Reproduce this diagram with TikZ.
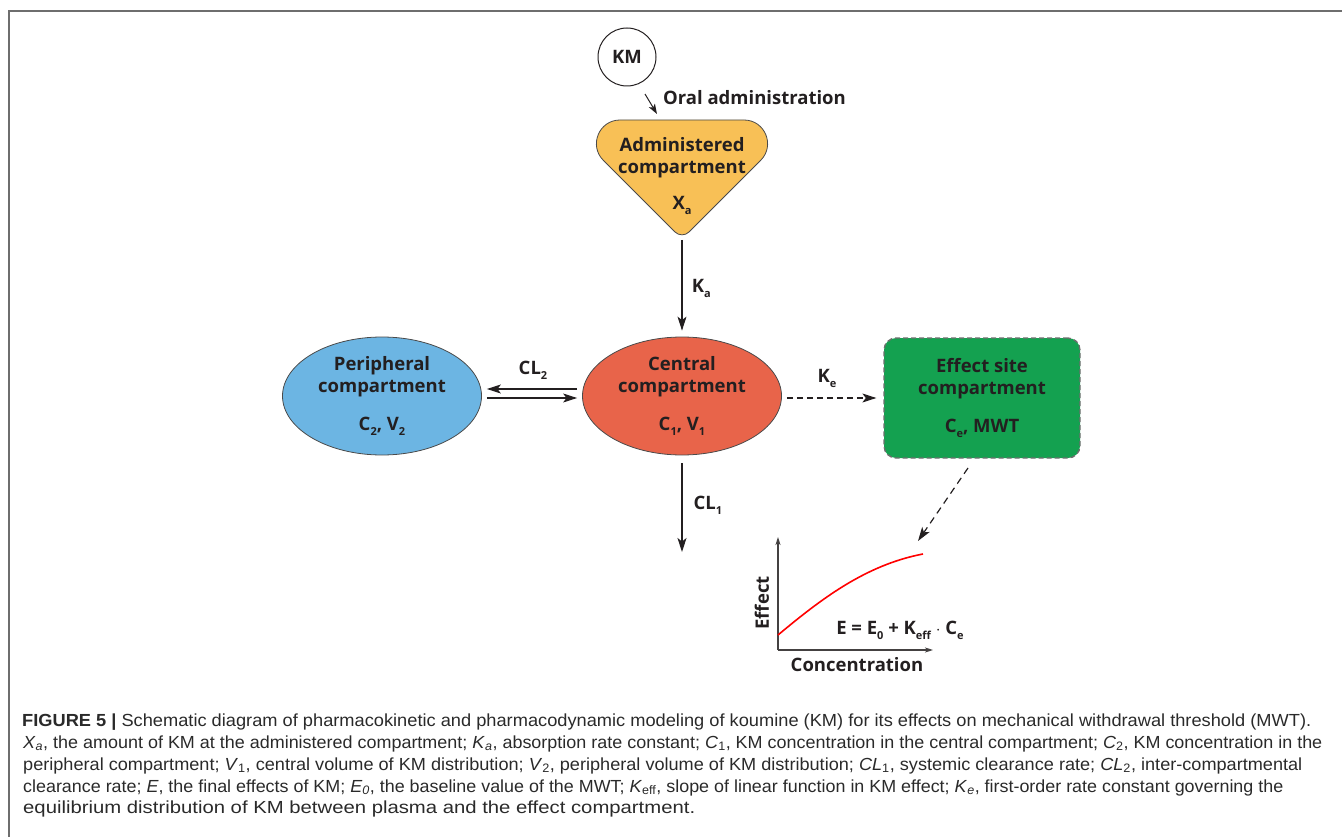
\documentclass[tikz,border=0pt]{standalone}
\usepackage{fontspec}
\setmainfont{Liberation Sans}
\newfontfamily\dfont{Open Sans}
\usetikzlibrary{arrows.meta,shapes.geometric}
\definecolor{ink}{HTML}{231F20}
\definecolor{edgec}{HTML}{4A4A4A}
\definecolor{admfill}{HTML}{F8C056}
\definecolor{cenfill}{HTML}{E8644A}
\definecolor{perfill}{HTML}{6CB5E3}
\definecolor{efffill}{HTML}{14A150}
\definecolor{framec}{HTML}{6E6E6E}
\definecolor{captxt}{HTML}{2A2A2A}
\newcommand\dsub[1]{\raisebox{-5pt}{\fontsize{11}{11}\selectfont #1}}
\newcommand\capfont{\fontsize{17.5}{20}\selectfont}
\tikzset{
 dtxt/.style={font=\dfont\bfseries\fontsize{18.5}{22}\selectfont, text=ink, align=center},
 comp/.style={ellipse, draw=edgec, line width=0.8pt, minimum width=199pt, minimum height=118pt, inner sep=0pt, dtxt},
 arr/.style={-{Stealth[length=14pt,width=9pt,inset=3.5pt]}, line width=1.1pt, draw=ink},
 darr/.style={arr, dash pattern=on 6pt off 4pt},
 axis/.style={-{Stealth[length=8pt,width=5pt,inset=2pt]}, line width=1.1pt, draw=ink!85},
 capline/.style={anchor=base west, inner sep=0pt, font=\capfont, text=captxt}
}
\begin{document}
\begin{tikzpicture}[x=1pt,y=-1pt]
\useasboundingbox (0,0) rectangle (1342,837);
% frame
\draw[framec, line width=1.6pt] (1342,11) -- (9,11) -- (9,837);

% KM and oral administration
\node[circle, draw=ink, line width=1pt, minimum size=58pt, inner sep=0pt, dtxt] (km) at (627,57) {KM};
\coordinate (oa1) at (645,94);
\coordinate (oa2) at (657,114);
\draw[arr, line width=1pt, -{Stealth[length=10pt,width=7pt,inset=2.5pt]}] (oa1) -- (oa2);
\node[dtxt, anchor=west, inner sep=0pt] (oral) at (663,98) {Oral administration};

% administered compartment (rounded inverted triangle)
\draw[draw=edgec, line width=0.8pt, fill=admfill]
  (620,120) -- (744,120) .. controls (765,120) and (775.5,145.5) .. (760.7,160.3)
  -- (689.07,231.93) .. controls (685.17,235.83) and (678.83,235.83) .. (674.93,231.93)
  -- (603.3,160.3) .. controls (588.5,145.5) and (599,120) .. (620,120) -- cycle;
\node[dtxt, inner sep=0pt] (adm) at (682,176) {Administered\\compartment\\[14pt]X\dsub{a}};
\coordinate (admtip) at (682,240);

% central and peripheral
\node[comp, fill=cenfill] (cen) at (682,396) {Central\\compartment\\[16pt]C\dsub{1}, V\dsub{1}};
\node[comp, fill=perfill] (per) at (382,396) {Peripheral\\compartment\\[16pt]C\dsub{2}, V\dsub{2}};

% effect site
\node[draw=edgec!80, line width=1.3pt, dash pattern=on 5pt off 3pt, rounded corners=12pt,
      fill=efffill, minimum width=196pt, minimum height=120pt, inner sep=0pt, dtxt] (eff) at (982,398)
      {Effect site\\compartment\\[16pt]C\dsub{e}, MWT};

% Ka arrow
\draw[arr, shorten >=6pt] (admtip) -- (cen.north) node[midway, right=6pt, dtxt] (ka) {K\dsub{a}};

% CL2 arrows
\draw[arr] ([xshift=-5pt,yshift=7pt]cen.west) -- ([xshift=5pt,yshift=7pt]per.east);
\draw[arr] ([xshift=5pt,yshift=-2pt]per.east) -- ([xshift=-5pt,yshift=-2pt]cen.west);
\node[dtxt] (cl2) at (533,370) {CL\dsub{2}};

% Ke dashed arrow
\draw[darr] ([xshift=5pt,yshift=-2pt]cen.east) -- ([xshift=-7pt]eff.west);
\node[dtxt] (ke) at (827,378) {K\dsub{e}};

% CL1 arrow
\coordinate (cl1end) at (682,552);
\draw[arr] ([yshift=-8pt]cen.south) -- (cl1end);
\node[dtxt, anchor=west] (cl1) at (690,505) {CL\dsub{1}};

% graph
\coordinate (org) at (778,650);
\coordinate (ytop) at (778,537);
\coordinate (xend) at (933,650);
\draw[axis] (org) -- (ytop);
\draw[axis] (org) -- (xend);
\coordinate (cs) at (778,635);
\coordinate (ce) at (923,554);
\draw[red, line width=1.6pt] (cs) .. controls (820,600) and (865,565) .. (ce);
\node[dtxt, rotate=90] (effl) at (762,603) {Effect};
\node[dtxt] (concl) at (857,665) {Concentration};
\node[dtxt] (form) at (900,630) {E = E\dsub{0} + K\dsub{eff} $\cdot$ C\dsub{e}};

% dashed arrow from effect site to graph
\coordinate (d1) at (968,468);
\coordinate (d2) at (918,541);
\draw[darr, line width=1.2pt, dash pattern=on 7pt off 5pt] (d1) -- (d2);

% caption
\node[capline] (c1) at (22,726) {\resizebox{1289pt}{\height}{\textbf{FIGURE 5 |} Schematic diagram of pharmacokinetic and pharmacodynamic modeling of koumine (KM) for its effects on mechanical withdrawal threshold (MWT).}};
\node[capline] (c2) at (23,748) {\resizebox{1299pt}{\height}{\textit{X}\textsubscript{\textit{a}}, the amount of KM at the administered compartment; \textit{K}\textsubscript{\textit{a}}, absorption rate constant; \textit{C}\textsubscript{1}, KM concentration in the central compartment; \textit{C}\textsubscript{2}, KM concentration in the}};
\node[capline] (c3) at (23,770) {\resizebox{1279pt}{\height}{peripheral compartment; \textit{V}\textsubscript{1}, central volume of KM distribution; \textit{V}\textsubscript{2}, peripheral volume of KM distribution; \textit{CL}\textsubscript{1}, systemic clearance rate; \textit{CL}\textsubscript{2}, inter-compartmental}};
\node[capline] (c4) at (23,792) {\resizebox{1260pt}{\height}{clearance rate; \textit{E}, the final effects of KM; \textit{E}\textsubscript{\textit{0}}, the baseline value of the MWT; \textit{K}\textsubscript{eff}, slope of linear function in KM effect; \textit{K}\textsubscript{\textit{e}}, first-order rate constant governing the}};
\node[capline] (c5) at (23,813) {\resizebox{672pt}{\height}{equilibrium distribution of KM between plasma and the effect compartment.}};
\end{tikzpicture}
\end{document}
